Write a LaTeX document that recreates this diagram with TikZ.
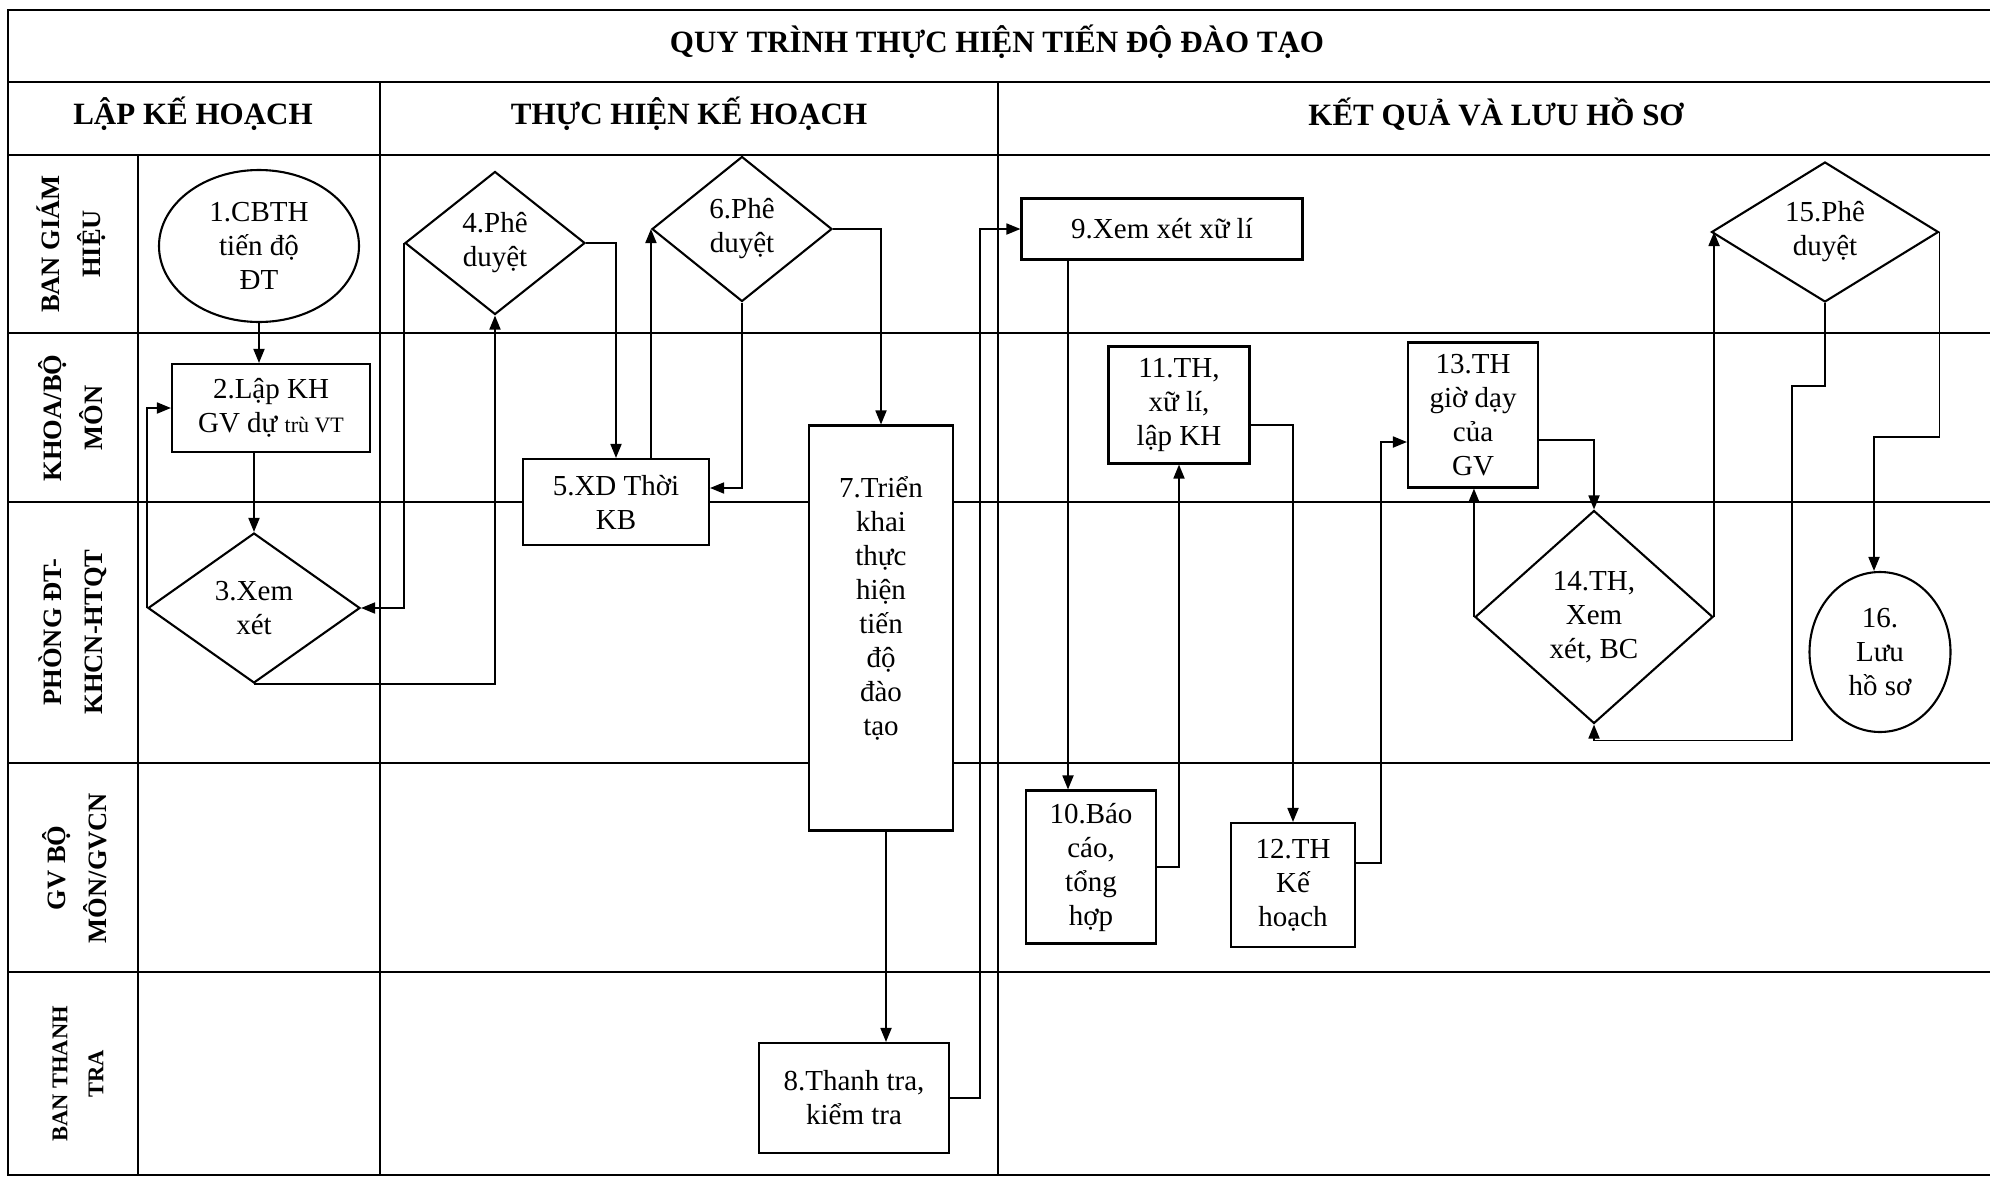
\documentclass[tikz,border=0pt]{standalone}
\usepackage{fontspec}
\setmainfont{Liberation Serif}
\usepackage{tikz}
\usetikzlibrary{shapes.geometric, arrows.meta}
\newcommand{\txtBody}{\fontsize{29}{34}\selectfont}
\newcommand{\txtSmall}{\fontsize{22}{26}\selectfont}
\newcommand{\txtHead}{\fontsize{31}{36}\selectfont\bfseries}
\newcommand{\txtLane}{\fontsize{26.5}{41}\selectfont\bfseries}
\tikzset{
  gridLine/.style={line width=1.6pt, draw=black},
  shapeBase/.style={
    draw=black, line width=2.1pt, fill=white,
    align=center, font=\txtBody, inner sep=0pt
  },
  procBox/.style={shapeBase, rectangle},
  decision/.style={shapeBase, diamond},
  terminal/.style={shapeBase, ellipse},
  laneLabel/.style={rotate=90, align=center, font=\txtLane},
  phaseLabel/.style={font=\txtHead},
  arr/.style={
    -{Triangle[length=14pt,width=11pt]}, line width=1.8pt, draw=black
  }
}

\begin{document}
\begin{tikzpicture}[x=1pt, y=-1pt]
\useasboundingbox (0,0) rectangle (1990,1176);

%% ==============================================================
%% Frame, phases and lanes
%% ==============================================================
\draw[gridLine] (1990,10) -- (8,10) -- (8,1175) -- (1990,1175);
\draw[gridLine] (8,82) -- (1990,82);
\draw[gridLine] (8,155) -- (1990,155);
\draw[gridLine] (8,333) -- (1990,333);
\draw[gridLine] (8,502) -- (1990,502);
\draw[gridLine] (8,763) -- (1990,763);
\draw[gridLine] (8,972) -- (1990,972);
\draw[gridLine] (138,155) -- (138,1175);
\draw[gridLine] (380,82) -- (380,1175);
\draw[gridLine] (998,82) -- (998,1175);

\node[phaseLabel] (title) at (997,42) {QUY TRÌNH THỰC HIỆN TIẾN ĐỘ ĐÀO TẠO};
\node[phaseLabel] (phaseA) at (193,114) {LẬP KẾ HOẠCH};
\node[phaseLabel] (phaseB) at (689,114) {THỰC HIỆN KẾ HOẠCH};
\node[phaseLabel] (phaseC) at (1496,114) {KẾT QUẢ VÀ LƯU HỒ SƠ};

% --- lane names ---
\node[laneLabel] (laneBGH) at (71,244) {BAN GIÁM\\HIỆU};
\node[laneLabel] (laneKhoa) at (71,418) {KHOA/BỘ\\MÔN};
\node[laneLabel] (lanePDT) at (73,632) {PHÒNG ĐT-\\KHCN-HTQT};
\node[laneLabel] (laneGV) at (75,868) {GV BỘ\\MÔN/GVCN};
\node[laneLabel, font=\fontsize{22.5}{36}\selectfont\bfseries]
    (laneTT) at (78,1074) {BAN THANH\\TRA};

%% ==============================================================
%% Steps
%% ==============================================================

% --- Lap ke hoach ---
\node[terminal, minimum width=200, minimum height=152] (cbth)
    at (259,246) {1.CBTH\\tiến độ\\ĐT};
\node[procBox, minimum width=198, minimum height=88] (lapKH)
    at (271,408) {2.Lập KH\\GV dự {\txtSmall trù VT}};
\node[decision, aspect=1.41, minimum width=212, minimum height=150] (xemXet)
    at (254,608) {3.Xem\\xét};

% --- Thuc hien ke hoach ---
\node[decision, aspect=1.26, minimum width=180, minimum height=143] (pheDuyetA)
    at (495,243) {4.Phê\\duyệt};
\node[procBox, minimum width=186, minimum height=86] (xdTKB)
    at (616,502) {5.XD Thời\\KB};
\node[decision, aspect=1.24, minimum width=180, minimum height=145] (pheDuyetB)
    at (742,229) {6.Phê\\duyệt};
\node[procBox, minimum width=144, minimum height=405] (trienKhai)
    at (881,628) {};
\node[font=\txtBody, align=center, anchor=north] (trienKhaiTxt)
    at ([yshift=-48pt]trienKhai.north)
    {7.Triển\\khai\\thực\\hiện\\tiến\\độ\\đào\\tạo};
\node[procBox, minimum width=190, minimum height=110] (thanhTra)
    at (854,1098) {8.Thanh tra,\\kiểm tra};

% --- Ket qua va luu ho so ---
\node[procBox, minimum width=281, minimum height=61] (xemXuLi)
    at (1162,229) {9.Xem xét xữ lí};
\node[procBox, minimum width=130, minimum height=153] (baoCao)
    at (1091,867) {10.Báo\\cáo,\\tổng\\hợp};
\node[procBox, minimum width=141, minimum height=117] (thXuLi)
    at (1179,405) {11.TH,\\xữ lí,\\lập KH};
\node[procBox, minimum width=124, minimum height=124] (thKeHoach)
    at (1293,885) {12.TH\\Kế\\hoạch};
\node[procBox, minimum width=130, minimum height=145] (thGioDay)
    at (1473,415) {13.TH\\giờ dạy\\của\\GV};
\node[decision, aspect=1.12, minimum width=238, minimum height=213] (thBC)
    at (1594,617) {14.TH,\\Xem\\xét, BC};
\node[decision, aspect=1.62, minimum width=227, minimum height=140] (pheDuyetC)
    at (1825,232) {15.Phê\\duyệt};
\node[terminal, minimum width=141, minimum height=160] (luuHS)
    at (1880,652) {16.\\Lưu\\hồ sơ};

%% ==============================================================
%%  ARROWS
%% ==============================================================

% Lap ke hoach loop
\draw[arr] (cbth.south) -- (cbth.south |- lapKH.north);
\draw[arr] (xemXet.north |- lapKH.south) -- (xemXet.north);
\draw[arr] (xemXet.west) |- (lapKH.west);
\draw[arr] (xemXet.south) -| (pheDuyetA.south);
\draw[arr] (pheDuyetA.west) |- (xemXet.east);

% Thoi khoa bieu and approval
\draw[arr] (pheDuyetA.east) -| (xdTKB.north);
\draw[arr] (pheDuyetB.west |- xdTKB.north) -- (pheDuyetB.west);
\draw[arr] (pheDuyetB.south) |- ([yshift=14pt]xdTKB.east);
\draw[arr] (pheDuyetB.east) -| (trienKhai.north);

% Trien khai -> thanh tra -> xem xet
\draw[arr] ([xshift=5pt]trienKhai.south) -- ([xshift=5pt]trienKhai.south |- thanhTra.north);
\draw[arr] (thanhTra.east) -- ++(30,0) |- (xemXuLi.west);

% Bao cao, ke hoach, gio day
\draw[arr] ([xshift=-94pt]xemXuLi.south) -- ([xshift=-94pt]xemXuLi.south |- baoCao.north);
\draw[arr] (baoCao.east) -| (thXuLi.south);
\draw[arr] ([yshift=-20pt]thXuLi.east) -| (thKeHoach.north);
\draw[arr] ([yshift=22pt]thKeHoach.east) -- ++(25,0) |- ([yshift=-27pt]thGioDay.west);
\draw[arr] ([yshift=-25pt]thGioDay.east) -| (thBC.north);
\draw[arr] (thBC.west) -- (thBC.west |- thGioDay.south);

% Final approval and archive
\draw[arr] (thBC.east) -- (thBC.east |- pheDuyetC.west);
\draw[arr] (pheDuyetC.south) -- ++(0,83) -- ++(-33,0) |- ([yshift=-16pt]thBC.south) -- (thBC.south);
\draw[arr] (pheDuyetC.east) -- ++(0,205) -| ([xshift=-6pt]luuHS.north);

\end{tikzpicture}
\end{document}
